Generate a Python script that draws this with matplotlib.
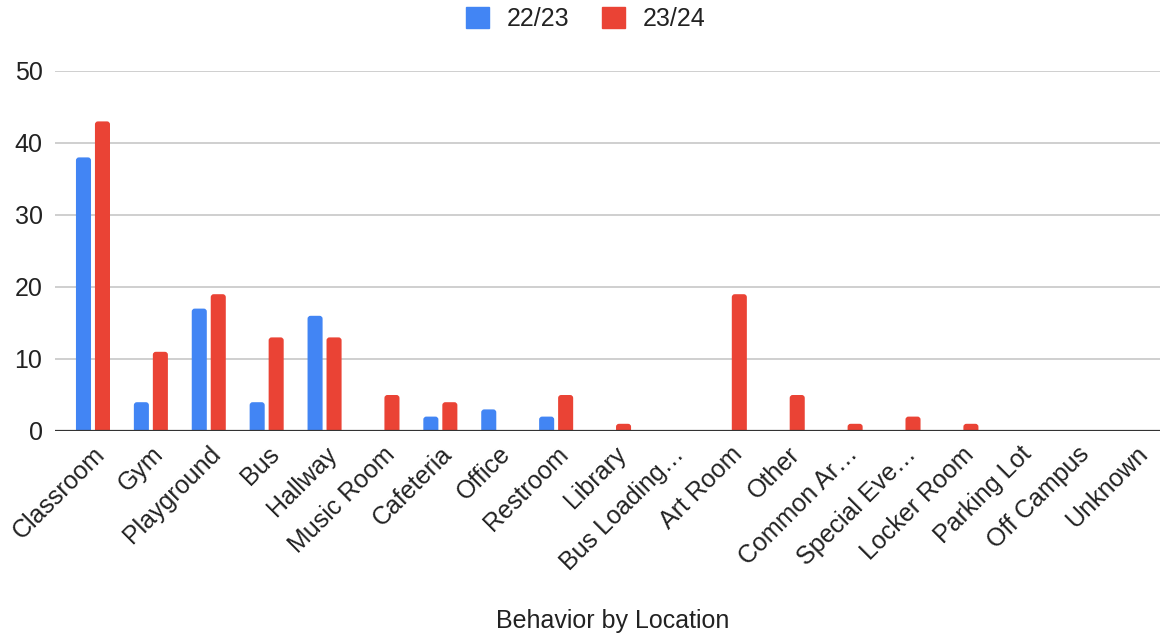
import matplotlib
matplotlib.use("Agg")
import matplotlib.pyplot as plt
from matplotlib.patches import FancyBboxPatch
import numpy as np

plt.rcParams['font.family'] = ['Liberation Sans', 'DejaVu Sans']

locations = ["Classroom", "Gym", "Playground", "Bus", "Hallway", "Music Room",
             "Cafeteria", "Office", "Restroom", "Library", "Bus Loading…",
             "Art Room", "Other", "Common Ar…", "Special Eve…", "Locker Room",
             "Parking Lot", "Off Campus", "Unknown"]
y2223 = [38, 4, 17, 4, 16, 0, 2, 3, 2, 0, 0, 0, 0, 0, 0, 0, 0, 0, 0]
y2324 = [43, 11, 19, 13, 13, 5, 4, 0, 5, 1, 0, 19, 5, 1, 2, 1, 0, 0, 0]
yticks = [0, 10, 20, 30, 40, 50]

BLUE = "#4285F4"
RED = "#EA4335"
TEXT = "#222222"
FS = 18

fig = plt.figure(figsize=(11.6, 6.36), dpi=100)
ax = fig.add_axes([55/1160, 1 - 431/636, 1105/1160, 360/636])

ax.set_xlim(-0.656, 18.43)
ax.set_ylim(0, 50)

x = np.arange(len(locations))
w = 0.26
off = 0.164

# pixel scale of the data axes, used to keep the corner rounding circular
fig.canvas.draw()
bb = ax.get_window_extent()
px_x = bb.width / (ax.get_xlim()[1] - ax.get_xlim()[0])
px_y = bb.height / (ax.get_ylim()[1] - ax.get_ylim()[0])
r_px = 3.0
r_x = r_px / px_x


def rounded_bars(xs, vals, color, label):
    ax.bar(xs, vals, width=w, color="none", label=label, zorder=3)
    for xi, v in zip(xs, vals):
        if v <= 0:
            continue
        # extend below the baseline so only the top corners show rounding
        p = FancyBboxPatch((xi - w / 2, -2), w, v + 2,
                           boxstyle=f"round,pad=0,rounding_size={r_x}",
                           mutation_aspect=px_x / px_y,
                           facecolor=color, edgecolor="none", zorder=3,
                           clip_on=True)
        ax.add_patch(p)


rounded_bars(x - off, y2223, BLUE, "22/23")
rounded_bars(x + off, y2324, RED, "23/24")

ax.set_yticks(yticks)
ax.yaxis.grid(True, color="#cccccc", linewidth=1.3, zorder=0)
ax.axhline(0, color="#333333", linewidth=1.6, zorder=4)
for s in ax.spines.values():
    s.set_visible(False)
ax.tick_params(axis="both", length=0, labelsize=FS, colors=TEXT)
ax.tick_params(axis="y", pad=9)
ax.set_xticks(x)
ax.set_xticklabels(locations, rotation=45, ha="right", rotation_mode="anchor")
ax.tick_params(axis="x", pad=8)

ax.set_xlabel("Behavior by Location", fontsize=FS, color=TEXT, va="center")
ax.xaxis.set_label_coords((613 - 55) / 1105, -(621 - 431) / 360)

handles = [plt.Rectangle((0, 0), 1, 1, color=BLUE),
           plt.Rectangle((0, 0), 1, 1, color=RED)]
fig.legend(handles, ["22/23", "23/24"], loc="center",
           bbox_to_anchor=(586/1160, 1 - 19/636), ncol=2,
           frameon=False, fontsize=FS, handlelength=0.92, handleheight=0.92,
           columnspacing=1.3, handletextpad=0.72, labelcolor=TEXT)

fig.savefig("out.png", dpi=100, facecolor="white")
